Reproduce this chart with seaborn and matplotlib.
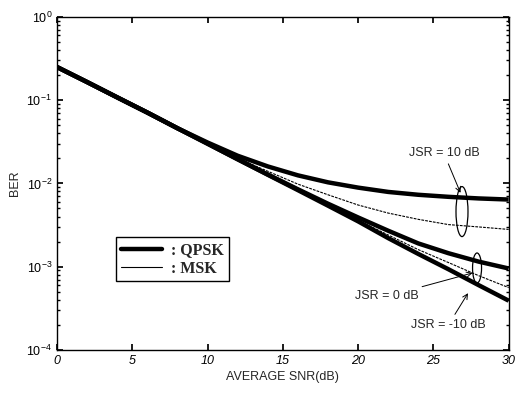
import numpy as np
import pandas as pd
import matplotlib
matplotlib.use("Agg")
import matplotlib.pyplot as plt
import matplotlib.transforms as mtransforms
from matplotlib.patches import Ellipse
from matplotlib.lines import Line2D
import seaborn as sns

# Average SNR grid (dB)
snr_db = [0, 2, 4, 6, 8, 10, 12, 14, 16, 18, 20, 22, 24, 26, 28, 30]

# BER for QPSK and MSK under three jammer-to-signal ratios
qpsk_jsr10 = [0.25, 0.165, 0.108, 0.071, 0.046, 0.031, 0.0215, 0.0160, 0.0125, 0.0103, 0.0089, 0.0079, 0.0073, 0.0069, 0.0066, 0.0064]
msk_jsr10 = [0.25, 0.165, 0.108, 0.071, 0.046, 0.030, 0.0200, 0.0140, 0.0098, 0.0073, 0.0055, 0.0044, 0.0037, 0.0032, 0.0030, 0.0028]
qpsk_jsr0 = [0.25, 0.165, 0.108, 0.071, 0.046, 0.030, 0.0195, 0.0128, 0.0085, 0.0057, 0.0039, 0.0027, 0.0019, 0.00145, 0.00115, 0.00095]
msk_jsr0 = [0.25, 0.165, 0.108, 0.071, 0.046, 0.030, 0.0195, 0.0127, 0.0084, 0.0055, 0.0036, 0.0024, 0.0016, 0.00112, 0.00078, 0.00056]
qpsk_jsrm10 = [0.25, 0.165, 0.108, 0.071, 0.046, 0.030, 0.0195, 0.0127, 0.0083, 0.0054, 0.0035, 0.0022, 0.00142, 0.00093, 0.00060, 0.00039]
msk_jsrm10 = [0.25, 0.165, 0.108, 0.071, 0.046, 0.030, 0.0195, 0.0127, 0.0083, 0.0054, 0.0035, 0.0022, 0.00143, 0.00094, 0.00061, 0.00040]

x_ticks = [0, 5, 10, 15, 20, 25, 30]
legend_labels = [" : QPSK", " : MSK"]

sns.set_theme(style="ticks")
plt.rcParams["font.family"] = ["Liberation Sans", "DejaVu Sans"]
plt.rcParams["mathtext.fontset"] = "custom"
plt.rcParams["mathtext.rm"] = "Liberation Sans"
plt.rcParams["mathtext.it"] = "Liberation Sans:italic"
plt.rcParams["mathtext.default"] = "regular"
plt.rcParams["axes.unicode_minus"] = False

fig = plt.figure(figsize=(5.15, 3.94), dpi=100)
ax = fig.add_axes([0.1107, 0.112, 0.877, 0.845])

thick = dict(color="black", linewidth=3.2, solid_capstyle="butt")
thin = dict(color="black", linewidth=0.8, linestyle=(0, (2.5, 1.0)))

for series in (qpsk_jsr10, qpsk_jsr0, qpsk_jsrm10):
    sns.lineplot(x=snr_db, y=series, ax=ax, **thick)
for series in (msk_jsr10, msk_jsr0, msk_jsrm10):
    sns.lineplot(x=snr_db, y=series, ax=ax, **thin)

ax.set_yscale("log")
ax.set_xlim(0, 30)
ax.set_ylim(1e-4, 1)
ax.set_xticks(x_ticks)
ax.set_xticklabels([str(t) for t in x_ticks], fontstyle="italic")
ax.tick_params(axis="both", which="both", direction="in", top=True, right=True,
               labelsize=9, colors="black")
ax.tick_params(axis="both", which="major", length=4)
ax.tick_params(axis="both", which="minor", length=2)
for sp in ax.spines.values():
    sp.set_linewidth(1.0)
    sp.set_color("black")

ax.set_xlabel("AVERAGE SNR(dB)", fontsize=9, labelpad=3)
ax.set_ylabel("BER", fontsize=9, labelpad=4)

# Ellipses grouping the QPSK/MSK pairs, sized in inches around a data-space centre
def group_ellipse(x_db, upper, lower, w_in, h_in):
    cy = 10 ** (0.5 * (np.log10(np.interp(x_db, snr_db, upper)) +
                       np.log10(np.interp(x_db, snr_db, lower))))
    tr = fig.dpi_scale_trans + mtransforms.ScaledTranslation(x_db, cy, ax.transData)
    ax.add_patch(Ellipse((0, 0), w_in, h_in, transform=tr, fill=False,
                         edgecolor="black", linewidth=0.9))

group_ellipse(26.9, qpsk_jsr10, msk_jsr10, 0.12, 0.50)
group_ellipse(27.9, qpsk_jsr0, msk_jsr0, 0.09, 0.30)

arrow = dict(arrowstyle="->", color="black", linewidth=0.7, shrinkA=1, shrinkB=0)
ax.annotate("JSR = 10 dB", xy=(26.8, 7.7e-3), xytext=(25.7, 2.3e-2),
            ha="center", va="center", fontsize=9, arrowprops=arrow)
ax.annotate("JSR = 0 dB", xy=(27.6, 8.4e-4), xytext=(21.9, 4.4e-4),
            ha="center", va="center", fontsize=9, arrowprops=arrow)
ax.annotate("JSR = -10 dB", xy=(27.3, 4.8e-4), xytext=(26.0, 2.0e-4),
            ha="center", va="center", fontsize=9, arrowprops=arrow)

handles = [Line2D([], [], color="black", linewidth=3.2),
           Line2D([], [], color="black", linewidth=0.8)]
leg = ax.legend(handles, legend_labels, loc="upper left", bbox_to_anchor=(0.131, 0.338),
                borderaxespad=0, frameon=True, fancybox=False, handlelength=2.6,
                handletextpad=0.3, borderpad=0.3, labelspacing=0.15,
                prop={"family": "Liberation Serif", "weight": "bold", "size": 11.5})
leg.get_frame().set_edgecolor("black")
leg.get_frame().set_linewidth(1.0)
leg.get_frame().set_alpha(1)

fig.savefig("out.png", dpi=100)
